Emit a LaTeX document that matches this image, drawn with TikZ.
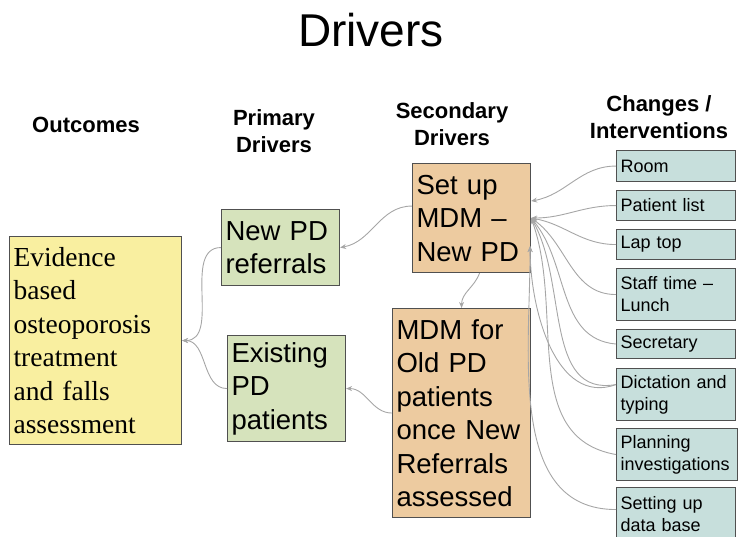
\documentclass[tikz,border=0pt]{standalone}
\usepackage{fontspec}
\setmainfont{Liberation Sans}
\newfontfamily\serifbox{Liberation Serif}
\usetikzlibrary{arrows.meta}

\definecolor{outcomefill}{HTML}{F9EFA0}
\definecolor{primaryfill}{HTML}{D6E3BC}
\definecolor{secondaryfill}{HTML}{EDCBA0}
\definecolor{changefill}{HTML}{C7DFDC}
\definecolor{boxline}{HTML}{505050}
\definecolor{linkline}{HTML}{A6A6A6}

\begin{document}
\begin{tikzpicture}[x=1pt,y=-1pt,
    box node/.style={draw=boxline,line width=1.1pt,anchor=north west,
      inner xsep=4pt,inner ysep=0pt,align=left},
    big node/.style={box node,font=\fontsize{27.5}{33.5}\selectfont},
    outcome node/.style={big node,fill=outcomefill,
      font=\serifbox\fontsize{27.5}{33.5}\selectfont},
    primary node/.style={big node,fill=primaryfill},
    secondary node/.style={big node,fill=secondaryfill},
    change node/.style={box node,fill=changefill,text width=111pt,
      font=\fontsize{18}{22}\selectfont},
    head node/.style={align=center,font=\bfseries\fontsize{22}{27}\selectfont},
    link/.style={draw=linkline,line width=0.9pt,
      -{Stealth[length=6pt,width=5pt]}}]

    \useasboundingbox (0,0) rectangle (740,537);

    \node (title) at (371,30) {\fontsize{46}{50}\selectfont Drivers};

    \node[head node] (h0) at (86,125) {Outcomes};
    \node[head node] (h1) at (274,131) {Primary\\Drivers};
    \node[head node] (h2) at (452,124) {Secondary\\Drivers};
    \node[head node] (h3) at (659,117) {Changes /\\Interventions};

    \node[outcome node,text width=164pt,minimum height=208pt] (out) at (9,236)
      {Evidence\\based\\osteoporosis\\treatment\\and falls\\assessment};

    \node[primary node,text width=110pt,minimum height=76pt] (newpd) at (221,209)
      {New PD\\referrals};
    \node[primary node,text width=110pt,minimum height=106pt] (oldpd) at (227,335)
      {Existing\\PD\\patients};

    \node[secondary node,text width=110pt,minimum height=109pt] (setup) at (412,163)
      {Set up\\MDM --\\New PD};
    \node[secondary node,text width=130pt,minimum height=209pt] (mdmold) at (392,308)
      {MDM for\\Old PD\\patients\\once New\\Referrals\\assessed};

    \node[change node,minimum height=31pt] (room) at (616,150) {Room};
    \node[change node,minimum height=30pt] (plist) at (616,190) {Patient list};
    \node[change node,minimum height=30pt] (laptop) at (616,229) {Lap top};
    \node[change node,minimum height=52pt] (staff) at (616,268) {Staff time --\\Lunch};
    \node[change node,minimum height=29pt] (secr) at (616,329) {Secretary};
    \node[change node,minimum height=52pt] (dict) at (616,368) {Dictation and\\typing};
    \node[change node,minimum height=52pt,text width=113pt] (plan) at (616,428)
      {Planning\\investigations};
    \node[change node,minimum height=54pt] (dbase) at (616,487) {Setting up\\data base};

    \path (newpd.west) edge[link,out=180,in=0] (out.east);
    \path (oldpd.west) edge[link,out=180,in=0] (out.east);
    \path ([yshift=12pt]setup.west) edge[link,out=180,in=10] (newpd.east);
    \path (mdmold.west) edge[link,out=180,in=0] (oldpd.east);
    \path ([xshift=8pt]setup.south) edge[link,out=-110,in=90] (mdmold.north);

    \path (room.west) edge[link,out=180,in=10] ([yshift=17pt]setup.east);
    \path (plist.west) edge[link,out=180,in=0] (setup.east);
    \path (laptop.west) edge[link,out=180,in=-10] (setup.east);
    \path (staff.west) edge[link,out=180,in=-35] (setup.east);
    \path (secr.west) edge[link,out=175,in=-50] (setup.east);
    \path ([yshift=10pt]dict.west) edge[link,out=190,in=-60] (setup.east);
    \path (plan.west) edge[link,out=170,in=-70] (setup.east);
    \path ([yshift=5pt]dbase.west) edge[link,out=180,in=-90] ([xshift=-1pt,yshift=-28pt]setup.east);
    \path ([yshift=10pt]dict.west) edge[link,out=200,in=-90] ([xshift=-1pt,yshift=-28pt]setup.east);
    \end{tikzpicture}
\end{document}
